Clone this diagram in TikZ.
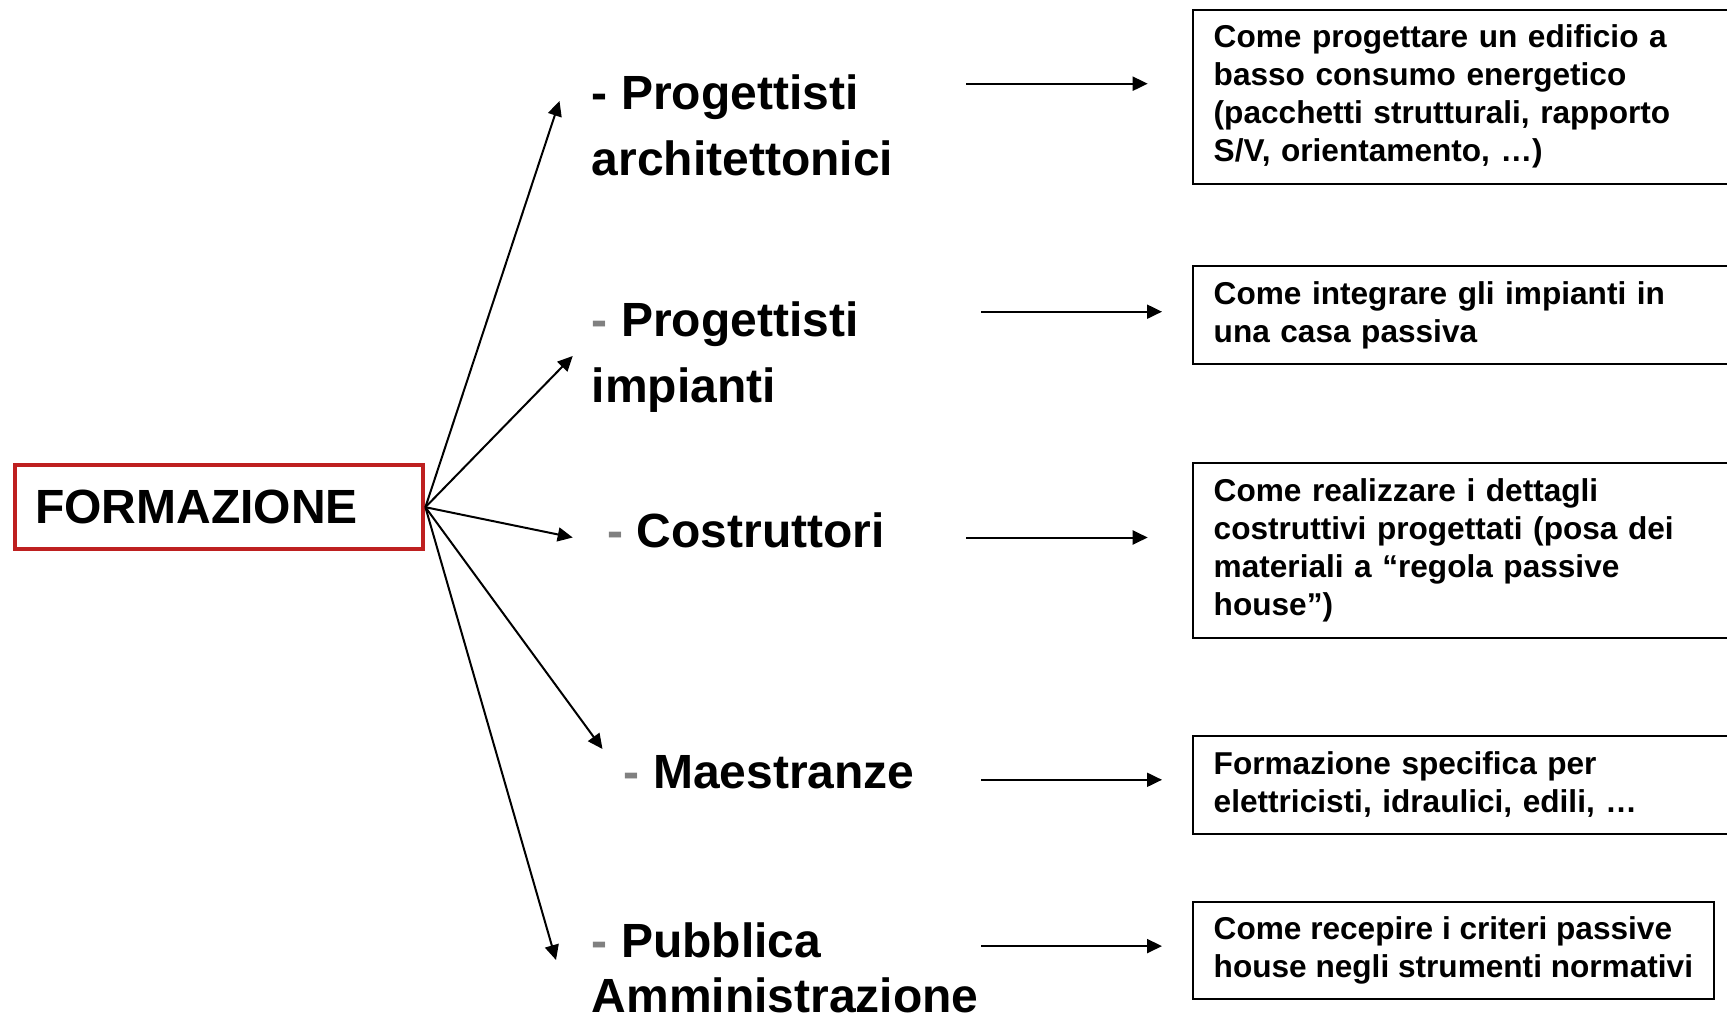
\documentclass[tikz,border=0pt]{standalone}
\usepackage{fontspec}
\setmainfont{Liberation Sans}
\usetikzlibrary{arrows.meta}
\definecolor{formred}{RGB}{190,32,32}
\definecolor{dashgray}{RGB}{128,128,128}
\tikzset{
  hub/.style={draw=formred, line width=2.2pt, anchor=north west, inner xsep=10pt, inner ysep=0pt,
    text width=184pt, minimum height=42pt, align=left, font=\fontsize{24}{28}\selectfont\bfseries},
  grp/.style={anchor=base west, inner sep=0pt, align=left, font=\fontsize{24}{33}\selectfont\bfseries},
  topic/.style={draw, line width=1pt, anchor=north west, inner xsep=10.5pt, inner ysep=0pt,
    align=left, font=\fontsize{15.8}{19}\selectfont\bfseries},
  tip/.style={>={Triangle[length=7.5pt,width=7pt]}, ->, line width=1pt},
}
\begin{document}
\begin{tikzpicture}[x=0.5pt,y=-0.5pt] %[scale=0.8]
  \useasboundingbox (0,0) rectangle (1727,1016);
  \clip (0,0) rectangle (1727,1016);
  \node[hub] (form) at (13,463) {FORMAZIONE};
  \node[grp] (arch) at (591.5,176) {- Progettisti\\architettonici};
  \node[grp] (imp) at (591.5,402) {{\color{dashgray}-} Progettisti\\impianti};
  \node[grp] (costr) at (607,547.5) {{\color{dashgray}-} Costruttori};
  \node[grp] (maest) at (623.5,788.5) {{\color{dashgray}-} Maestranze};
  \node[grp, font=\fontsize{24}{27.5}\selectfont\bfseries] (pa) at (591.5,1012) {{\color{dashgray}-} Pubblica\\Amministrazione};
  \node[topic, text width=263pt, minimum height=87pt] (b1) at (1191.7,8.8) {Come progettare un edificio a\\basso consumo energetico\\(pacchetti strutturali, rapporto\\S/V, orientamento, …)};
  \node[topic, text width=263pt, minimum height=49pt] (b2) at (1191.7,265.4) {Come integrare gli impianti in\\una casa passiva};
  \node[topic, text width=263pt, minimum height=87.5pt] (b3) at (1191.7,461.5) {Come realizzare i dettagli\\costruttivi progettati (posa dei\\materiali a “regola passive\\house”)};
  \node[topic, text width=263pt, minimum height=49pt] (b4) at (1191.7,734.6) {Formazione specifica per\\elettricisti, idraulici, edili, …};
  \node[topic, minimum height=48.5pt] (b5) at (1191.7,901) {Come recepire i criteri passive\\house negli strumenti normativi};
  \coordinate (e1) at (559.5,101);
  \coordinate (e2) at (572.7,356);
  \coordinate (e3) at (572.7,537.5);
  \coordinate (e4) at (602.5,749);
  \coordinate (e5) at (556,960);
  \coordinate (s1) at (966,83.7);
  \coordinate (t1) at (1147.7,83.7);
  \coordinate (s2) at (981.3,311.7);
  \coordinate (t2) at (1162,311.7);
  \coordinate (s3) at (966,537.5);
  \coordinate (t3) at (1147.7,537.5);
  \coordinate (s4) at (981.3,779.8);
  \coordinate (t4) at (1162,779.8);
  \coordinate (s5) at (981.3,946.1);
  \coordinate (t5) at (1162,946.1);
  \draw [tip] (form.east) -- (e1);
  \draw [tip] (form.east) -- (e2);
  \draw [tip] (form.east) -- (e3);
  \draw [tip] (form.east) -- (e4);
  \draw [tip] (form.east) -- (e5);
  \draw [tip] (s1) -- (t1);
  \draw [tip] (s2) -- (t2);
  \draw [tip] (s3) -- (t3);
  \draw [tip] (s4) -- (t4);
  \draw [tip] (s5) -- (t5);
\end{tikzpicture}
\end{document}
